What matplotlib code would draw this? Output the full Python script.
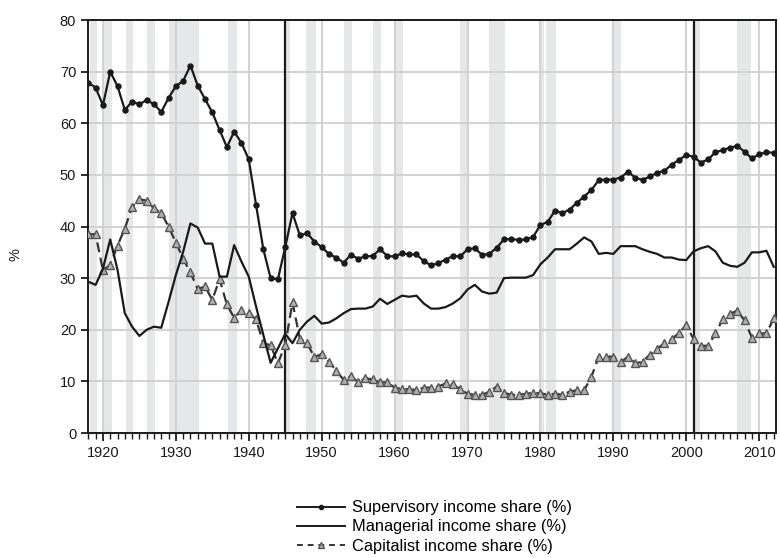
import matplotlib
matplotlib.use("Agg")
import matplotlib.pyplot as plt
from matplotlib.ticker import MultipleLocator
from matplotlib.lines import Line2D

plt.rcParams['font.family'] = ['Liberation Sans', 'DejaVu Sans']

years = list(range(1918, 2013))

supervisory = [
    67.9, 66.9,
    63.5, 70.0, 67.2, 62.6, 64.2, 63.7, 64.5, 63.7, 62.2, 64.9,
    67.2, 68.2, 71.2, 67.3, 64.7, 62.1, 58.7, 55.4, 58.4, 56.2,
    53.0, 44.2, 35.6, 30.0, 29.8, 36.0, 42.6, 38.3, 38.7, 37.1,
    36.0, 34.7, 34.0, 33.0, 34.5, 33.8, 34.2, 34.3, 35.6, 34.3,
    34.2, 34.8, 34.6, 34.6, 33.3, 32.5, 32.9, 33.6, 34.3, 34.2,
    35.6, 35.8, 34.5, 34.7, 35.9, 37.5, 37.6, 37.4, 37.5, 38.0,
    40.3, 40.9, 43.1, 42.6, 43.3, 44.6, 45.8, 47.1, 49.0, 49.1,
    49.1, 49.5, 50.6, 49.5, 49.0, 49.7, 50.4, 50.8, 52.0, 52.9,
    53.9, 53.5, 52.4, 53.0, 54.4, 54.8, 55.3, 55.6, 54.5, 53.2,
    54.0, 54.4, 54.3,
]

managerial = [
    29.3, 28.7,
    31.8, 37.5, 31.6, 23.2, 20.6, 18.8, 20.0, 20.6, 20.4, 25.4,
    30.6, 35.1, 40.6, 39.8, 36.7, 36.7, 30.3, 30.3, 36.4, 33.2,
    30.3, 24.5, 19.0, 13.6, 16.4, 19.2, 17.4, 20.0, 21.6, 22.7,
    21.2, 21.4, 22.2, 23.2, 24.0, 24.1, 24.1, 24.5, 26.0, 25.0,
    25.8, 26.6, 26.4, 26.6, 25.1, 24.1, 24.1, 24.4, 25.1, 26.1,
    27.8, 28.7, 27.4, 27.0, 27.2, 30.0, 30.1, 30.1, 30.1, 30.6,
    32.7, 34.0, 35.6, 35.6, 35.6, 36.7, 37.9, 37.1, 34.7, 34.9,
    34.7, 36.2, 36.2, 36.2, 35.6, 35.1, 34.7, 34.0, 34.0, 33.6,
    33.5, 35.2, 35.8, 36.2, 35.2, 33.0, 32.4, 32.2, 33.0, 35.0,
    35.0, 35.3, 32.2,
]

capitalist = [
    38.5, 38.5,
    31.5, 32.6, 36.3, 39.6, 43.8, 45.3, 45.0, 43.5, 42.6, 40.0,
    36.9, 33.8, 31.1, 27.9, 28.4, 25.8, 29.8, 24.9, 22.3, 23.9,
    23.2, 22.0, 17.4, 17.0, 13.5, 17.1, 25.3, 18.3, 17.4, 14.7,
    15.3, 13.8, 12.1, 10.3, 11.0, 9.9, 10.6, 10.4, 9.8, 9.8,
    8.8, 8.5, 8.5, 8.3, 8.8, 8.8, 9.0, 9.6, 9.4, 8.5,
    7.6, 7.4, 7.4, 8.0, 9.0, 7.8, 7.4, 7.4, 7.6, 7.8,
    7.7, 7.4, 7.6, 7.4, 8.0, 8.3, 8.3, 10.9, 14.8, 14.8,
    14.8, 13.7, 14.8, 13.5, 13.8, 15.2, 16.3, 17.4, 18.2, 19.4,
    20.9, 18.2, 16.9, 16.9, 19.3, 22.0, 23.1, 23.7, 21.8, 18.5,
    19.3, 19.3, 22.2,
]

recessions = [
    (1918.2, 1919.2), (1920.0, 1921.2), (1923.2, 1924.1), (1926.0, 1927.2),
    (1929.0, 1933.2), (1937.2, 1938.4), (1945.0, 1945.6), (1947.9, 1949.2),
    (1953.0, 1954.1), (1957.0, 1958.1), (1960.0, 1961.1), (1969.0, 1970.1),
    (1972.9, 1975.1), (1980.0, 1980.5), (1980.8, 1982.1), (1990.0, 1991.1),
    (2001.0, 2001.9), (2006.9, 2008.9),
]

vlines = [1945, 2001]

labels = ["Supervisory income share (%)",
          "Managerial income share (%)",
          "Capitalist income share (%)"]

fig = plt.figure(figsize=(7.8, 5.58), dpi=100)
ax = fig.add_axes([0.1128, 0.224, 0.882, 0.740])

for a, b in recessions:
    ax.axvspan(a, b, color='#e6e7e9', lw=0, zorder=0)

ax.set_xlim(1917.95, 2012.3)
ax.set_ylim(0, 80)
ax.xaxis.set_major_locator(MultipleLocator(10))
ax.xaxis.set_minor_locator(MultipleLocator(1))
ax.yaxis.set_major_locator(MultipleLocator(10))
ax.grid(True, which='major', color='#d2d2d2', lw=1.5, zorder=1)
ax.set_axisbelow(True)

for v in vlines:
    ax.axvline(v, color='#1a1a1a', lw=1.6, zorder=2)

l1, = ax.plot(years, supervisory, color='#1a1a1a', lw=1.6, marker='o',
              ms=3.6, mfc='#1a1a1a', mec='#1a1a1a', zorder=5)
l2, = ax.plot(years, managerial, color='#1a1a1a', lw=1.6, zorder=4)
l3, = ax.plot(years, capitalist, color='#333333', lw=1.6, ls=(0, (4.5, 2.5)),
              marker='^', ms=5.5, mfc='#b0b0b0', mec='#555555', mew=1.0,
              zorder=3)

for s in ax.spines.values():
    s.set_color('#1a1a1a')
    s.set_linewidth(1.4)

ax.tick_params(axis='both', which='major', labelsize=10.5, colors='#1a1a1a',
               direction='out', length=6, width=1.3)
ax.tick_params(axis='x', which='minor', direction='out', length=4, width=1.0,
               colors='#1a1a1a')
ax.tick_params(axis='y', which='major', length=5)
ax.tick_params(top=False, right=False)

fig.text(0.02, 1 - 255 / 558, '%', rotation=90, va='center', ha='center',
         fontsize=10.5, color='#1a1a1a')

h1 = Line2D([], [], color='#1a1a1a', lw=1.4, marker='o', ms=3)
h2 = Line2D([], [], color='#1a1a1a', lw=1.4)
h3 = Line2D([], [], color='#333333', lw=1.4, ls=(0, (3, 2.5)), marker='^',
            ms=4.5, mfc='#b0b0b0', mec='#555555')

fig.legend([h1, h2, h3], labels, loc='center',
           bbox_to_anchor=(0.557, 1 - 527 / 558), frameon=False,
           fontsize=11.8, handlelength=2.9, handletextpad=0.45,
           labelspacing=0.26, borderpad=0, numpoints=1)

fig.savefig('out.png', dpi=100)
